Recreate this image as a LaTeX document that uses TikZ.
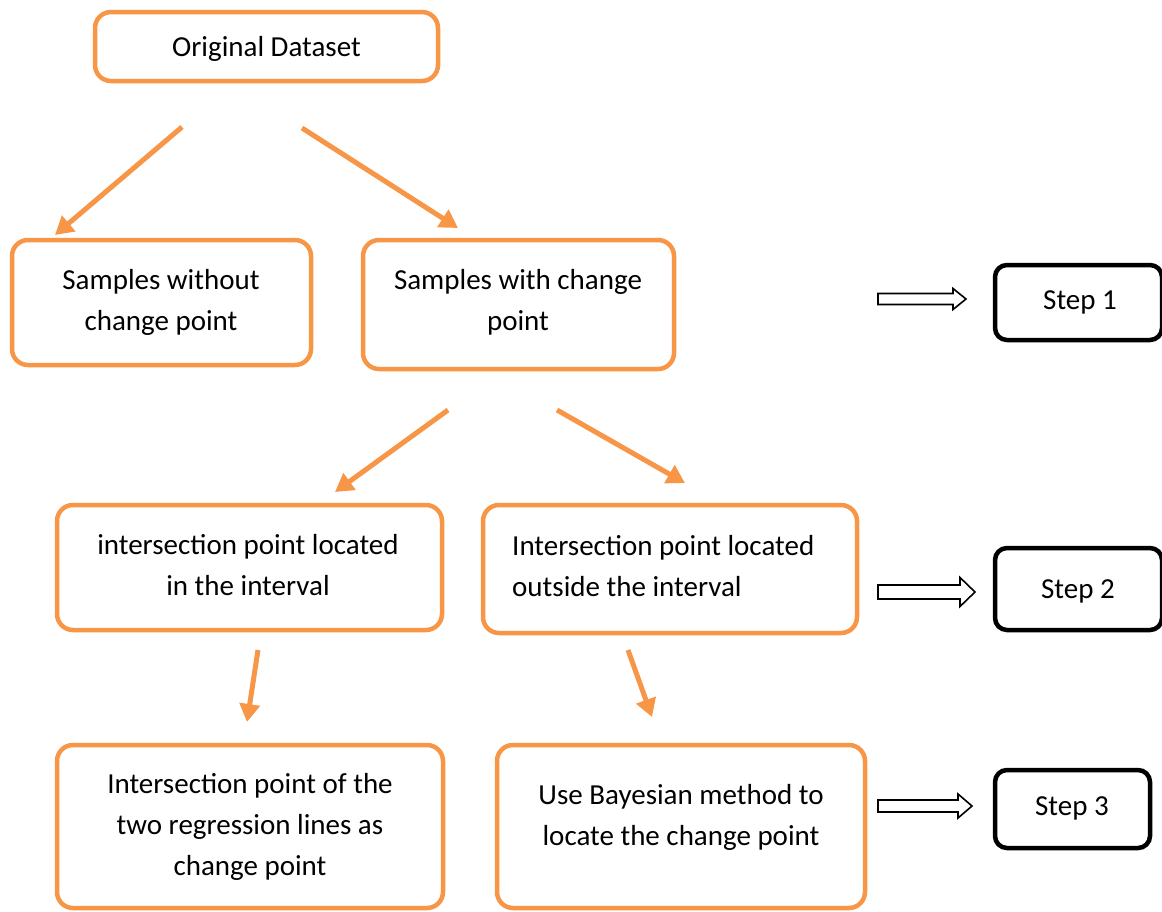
\documentclass[tikz,border=0pt]{standalone}
\usepackage{fontspec}
\setmainfont{Carlito}
\usetikzlibrary{arrows.meta}
\definecolor{office}{HTML}{F79646}
\begin{document}
\begin{tikzpicture}[x=1pt,y=-1pt,
  obox/.style={draw=office,line width=4.5pt,rounded corners=16pt,fill=white,inner sep=0pt},
  sbox/.style={draw=black,line width=4.5pt,rounded corners=12pt,fill=white,inner sep=0pt},
  txt/.style={font=\fontsize{29}{41}\selectfont,align=center,inner sep=0pt},
  oarrow/.style={draw=office,line width=5pt,-{Triangle[length=18pt,width=20pt]}},
  hollow/.style={draw=black,line width=1.6pt,fill=white,line join=miter}]
\useasboundingbox (0,0) rectangle (1162,911);
\clip (0,0) rectangle (1162,911);
% orange boxes
\node[obox,minimum width=343pt,minimum height=69pt] (orig) at (266.5,46.5) {};
\node[txt] (origt) at (266.5,49) {Original Dataset};
\node[obox,minimum width=299pt,minimum height=125pt] (without) at (161.5,302.5) {};
\node[txt] (withoutt) at (161,302) {Samples without\\change point};
\node[obox,minimum width=311pt,minimum height=129pt] (with) at (518.5,304.5) {};
\node[txt] (witht) at (518,302) {Samples with change\\point};
\node[obox,minimum width=385pt,minimum height=125pt] (inside) at (249.5,567.5) {};
\node[txt] (insidet) at (248,565) {intersection point located\\in the interval};
\node[obox,minimum width=374pt,minimum height=128pt] (outside) at (670,569) {};
\node[txt,align=left,anchor=west] (outsidet) at (512,566) {Intersection point located\\outside the interval};
\node[obox,minimum width=386pt,minimum height=163pt] (regr) at (250,826.5) {};
\node[txt] (regrt) at (250,827) {Intersection point of the\\two regression lines as\\change point};
\node[obox,minimum width=368pt,minimum height=163pt] (bayes) at (681,826.5) {};
\node[txt] (bayest) at (681,817) {Use Bayesian method to\\locate the change point};
% step boxes
\node[sbox,minimum width=167pt,minimum height=75pt] (s1) at (1078.5,302.5) {};
\node[txt] (s1t) at (1080,302) {Step 1};
\node[sbox,minimum width=167pt,minimum height=82pt] (s2) at (1078.5,589) {};
\node[txt] (s2t) at (1078,591) {Step 2};
\node[sbox,minimum width=155pt,minimum height=78pt] (s3) at (1072.5,809) {};
\node[txt] (s3t) at (1072,808) {Step 3};
% orange arrows
\coordinate (a1s) at (182,127); \coordinate (a1e) at (55,235);
\coordinate (a2s) at (302,128); \coordinate (a2e) at (458,228);
\coordinate (a3s) at (448,410); \coordinate (a3e) at (335,492);
\coordinate (a4s) at (557,410); \coordinate (a4e) at (685,483);
\coordinate (a5s) at (258,650); \coordinate (a5e) at (247,722);
\coordinate (a6s) at (628,650); \coordinate (a6e) at (652,717);
\foreach \i in {1,...,6} {\draw[oarrow] (a\i s) -- (a\i e);}
% hollow arrows
\draw[hollow] (878,293.5) -- (953,293.5) -- (953,288.5) -- (966,299) -- (953,309.5) -- (953,304.5) -- (878,304.5) -- cycle;
\draw[hollow] (878,585) -- (960,585) -- (960,577.5) -- (975,592) -- (960,606.5) -- (960,599) -- (878,599) -- cycle;
\draw[hollow] (878,800) -- (958,800) -- (958,794) -- (972,806) -- (958,818) -- (958,812) -- (878,812) -- cycle;
\end{tikzpicture}
\end{document}
